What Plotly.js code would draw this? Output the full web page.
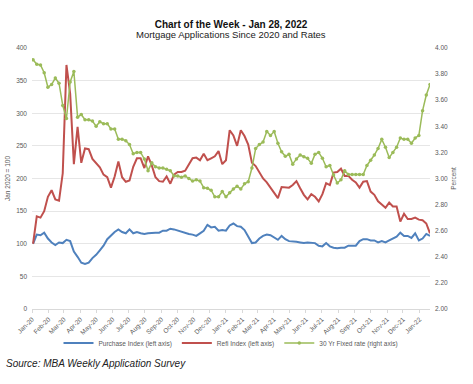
<!DOCTYPE html>
<html>
<head>
<meta charset="utf-8">
<script src="https://cdn.plot.ly/plotly-3.0.1.min.js"></script>
<style>html,body{margin:0;padding:0;background:#fff;}#chart{width:473px;height:384px;}</style>
</head>
<body>
<div id="chart"></div>
<script>
// Weekly observations (week ending Fridays), Jan 3 2020 .. Jan 21 2022
const firstWeek = '2020-01-03';
const weekCount = 108;

const purchaseIndex = [
  100,114,113,117,108,102,98,102,101,106,
  104,88,80,71,69,71,78,83,90,97,
  107,113,118,122,118,116,122,116,118,116,
  115,116,117,117,117,120,120,123,122,120,
  119,117,115,114,112,116,120,129,125,126,
  120,121,120,128,131,127,126,121,112,101,
  102,108,112,114,113,109,106,112,107,104,
  104,103,102,101,102,102,101,97,96,101,
  96,94,93,94,94,97,97,97,104,107,
  107,105,105,102,104,102,105,108,111,117,
  112,112,109,116,105,108,115,112
];

const refiIndex = [
  100,142,140,150,172,182,168,166,208,374,
  330,222,279,224,246,245,230,224,217,206,
  202,186,203,226,202,195,197,218,231,231,
  216,234,220,202,196,195,203,192,206,210,
  210,212,222,231,232,228,238,228,231,234,
  242,222,228,274,266,250,274,265,252,224,
  219,210,200,194,186,178,170,187,186,186,
  190,196,185,175,168,176,172,165,176,193,
  190,209,210,215,204,204,198,194,186,195,
  196,180,175,165,160,155,163,157,157,134,
  146,138,138,140,137,136,131,116
];

const fixedRate30 = [
  3.91,3.875,3.87,3.81,3.70,3.72,3.77,3.73,3.56,3.46,
  3.74,3.82,3.47,3.49,3.45,3.45,3.44,3.40,3.435,3.42,
  3.42,3.38,3.38,3.30,3.30,3.29,3.26,3.19,3.20,3.20,
  3.15,3.06,3.12,3.09,3.08,3.08,3.07,3.06,3.02,3.02,
  3.01,3.02,3.00,2.98,2.99,2.98,2.93,2.925,2.91,2.86,
  2.86,2.90,2.86,2.89,2.92,2.94,2.92,2.96,2.975,3.08,
  3.23,3.26,3.28,3.36,3.33,3.36,3.27,3.205,3.17,3.185,
  3.11,3.15,3.18,3.167,3.155,3.116,3.185,3.20,3.155,3.09,
  3.10,3.027,2.965,2.99,3.06,3.03,3.03,3.03,3.03,3.03,
  3.10,3.14,3.18,3.23,3.30,3.24,3.16,3.20,3.24,3.31,
  3.30,3.30,3.27,3.31,3.33,3.52,3.64,3.72
];

const seriesNames = ['Purchase Index (left axis)', 'Refi Index (left axis)', '30 Yr Fixed rate (right axis)'];

// build week-ending dates
const weeks = [];
(function(){
  const d0 = new Date(firstWeek + 'T00:00:00Z');
  for (let i = 0; i < weekCount; i++) {
    const d = new Date(d0.getTime() + i * 7 * 86400000);
    weeks.push(d.toISOString().slice(0, 10));
  }
})();

const FONT = 'Liberation Sans, Arial, sans-serif';
const TICKC = '#595959';

const traces = [
  {x: weeks, y: purchaseIndex, name: seriesNames[0], type: 'scatter', mode: 'lines',
   line: {color: '#4F81BD', width: 2}, yaxis: 'y'},
  {x: weeks, y: refiIndex, name: seriesNames[1], type: 'scatter', mode: 'lines',
   line: {color: '#C0504D', width: 2}, yaxis: 'y'},
  {x: weeks, y: fixedRate30, name: seriesNames[2], type: 'scatter', mode: 'lines+markers',
   line: {color: '#9BBB59', width: 1.5}, marker: {color: '#9BBB59', size: 3.5, symbol: 'circle'},
   yaxis: 'y2'}
];

const layout = {
  width: 473, height: 384,
  margin: {l: 32, r: 43, t: 48, b: 75, pad: 0},
  paper_bgcolor: '#ffffff', plot_bgcolor: '#ffffff',
  font: {family: FONT, color: TICKC, size: 6.5},
  showlegend: true,
  title: {
    text: '<b>Chart of the Week - Jan 28, 2022</b>',
    font: {family: FONT, size: 10, color: '#111111'},
    xref: 'paper', x: 0.5, xanchor: 'center',
    yref: 'container', y: 1 - 24/384, yanchor: 'middle'
  },
  annotations: [
    {text: 'Mortgage Applications Since 2020 and Rates', xref: 'paper', yref: 'paper',
     x: 0.5, y: (309 - 34.5) / 261, xanchor: 'center', yanchor: 'middle', showarrow: false,
     font: {family: FONT, size: 9.5, color: '#222222'}},
    {text: '<i>Source: MBA Weekly Application Survey</i>', xref: 'paper', yref: 'paper',
     x: (4 - 32) / 398, y: (309 - 363) / 261, xanchor: 'left', yanchor: 'middle', showarrow: false,
     font: {family: FONT, size: 10, color: '#222222'}}
  ],
  xaxis: {
    type: 'date',
    range: ['2020-01-01', '2022-01-21'],
    tick0: '2020-01-01', dtick: 'M1', tickformat: '%b-%y',
    tickangle: -45,
    tickfont: {family: FONT, size: 6.5, color: TICKC},
    ticks: 'outside', ticklen: 3, tickcolor: '#d9d9d9',
    showline: true, linecolor: '#d9d9d9', linewidth: 1,
    showgrid: false, zeroline: false, fixedrange: true
  },
  yaxis: {
    range: [0, 400], dtick: 50, tick0: 0,
    tickfont: {family: FONT, size: 6.5, color: TICKC},
    ticks: '', ticklabelstandoff: 4,
    showgrid: true, gridcolor: '#e6e6e6', gridwidth: 1,
    zeroline: false, showline: false,
    title: {text: 'Jan 2020 = 100', font: {family: FONT, size: 6.5, color: TICKC}, standoff: 4}
  },
  yaxis2: {
    overlaying: 'y', side: 'right',
    range: [2, 4], dtick: 0.2, tick0: 2, tickformat: '.2f',
    tickfont: {family: FONT, size: 6.5, color: TICKC},
    ticks: '', ticklabelstandoff: 4,
    showgrid: false, zeroline: false, showline: false,
    title: {text: 'Percent', font: {family: FONT, size: 6.5, color: TICKC}, standoff: 4}
  },
  legend: {
    orientation: 'h', x: 0.5, xanchor: 'center',
    y: (309 - 343) / 261, yanchor: 'middle',
    font: {family: FONT, size: 6.5, color: TICKC},
    bgcolor: 'rgba(0,0,0,0)', itemwidth: 30, tracegroupgap: 0
  }
};

Plotly.newPlot('chart', traces, layout, {displayModeBar: false, staticPlot: true});
</script>
</body>
</html>
